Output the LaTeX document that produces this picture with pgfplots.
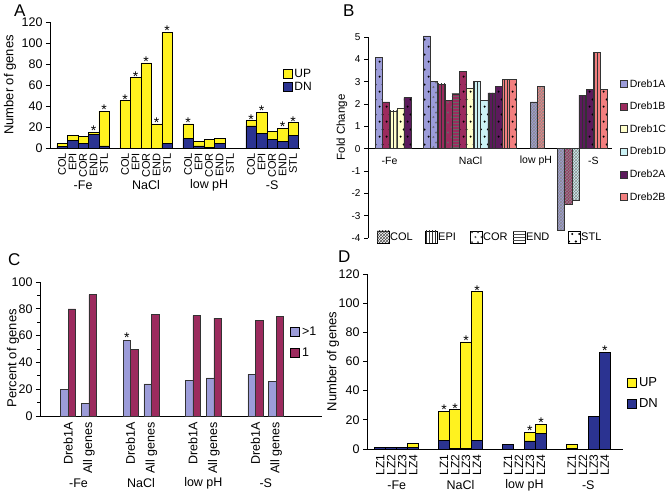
\documentclass[border=0pt]{standalone}
\usepackage{fontspec}
\setmainfont{Liberation Sans}
\usepackage{pgfplots}
\usepackage{pgfplotstable}
\pgfplotsset{compat=1.18}
\usetikzlibrary{patterns}

\newcommand{\fs}[1]{\fontsize{#1}{#1}\selectfont}
\def\yesstr{y}

\definecolor{upY}{HTML}{FFF21F}
\definecolor{dnB}{HTML}{2B3391}
\definecolor{lav}{HTML}{9C9CD9}
\definecolor{mar}{HTML}{9C2B5E}
\definecolor{lyel}{HTML}{FFFFCC}
\definecolor{lcy}{HTML}{CCF2F5}
\definecolor{dpur}{HTML}{5C1A5C}
\definecolor{salm}{HTML}{F27F7F}

\pgfdeclarepatternformonly{stldots}{\pgfqpoint{0pt}{0pt}}{\pgfqpoint{7pt}{15pt}}{\pgfqpoint{7pt}{15pt}}{%
  \pgfpathcircle{\pgfqpoint{1.8pt}{2.5pt}}{1.2pt}%
  \pgfpathcircle{\pgfqpoint{5.2pt}{10pt}}{1.2pt}%
  \pgfusepath{fill}}
\pgfdeclarepatternformonly{corcirc}{\pgfqpoint{0pt}{0pt}}{\pgfqpoint{6pt}{10pt}}{\pgfqpoint{6pt}{10pt}}{%
  \pgfsetlinewidth{0.4pt}%
  \pgfpathcircle{\pgfqpoint{1.6pt}{2pt}}{0.9pt}%
  \pgfpathcircle{\pgfqpoint{4.4pt}{7pt}}{0.9pt}%
  \pgfusepath{stroke}}

\pgfplotsset{
  basic/.style={scale only axis, anchor=south west, axis lines*=left, tick align=outside,
    axis line style={line width=0.9pt, black}, major tick length=4pt, minor tick length=2.5pt,
    every tick/.append style={line width=0.9pt, black},
    /pgf/number format/assume math mode=true, clip=false,
    xtick style={draw=none}, tick label style={font=\fs{12.5}}},
  over/.style={scale only axis, anchor=south west, hide axis, clip=false},
  starmarks/.style={only marks, mark=text, text mark={*}, text mark as node=true,
    text mark style={font=\fs{14}, anchor=base, yshift=-3.5pt, inner sep=0pt}},
  sqleg/.style={legend image code/.code={\draw[##1, draw=black, line width=0.7pt] (0pt,-4.5pt) rectangle (9pt,4.5pt);}},
  sqlegs/.style={legend image code/.code={\draw[##1, draw=black!80, line width=0.5pt] (0pt,-3.5pt) rectangle (7pt,3.5pt);}},
  starnodes/.style={point meta=explicit symbolic,
    nodes near coords={\edef\cur{\pgfplotspointmeta}\ifx\cur\yesstr *\fi},
    every node near coord/.append style={font=\fs{14}, inner sep=0.5pt, anchor=south, yshift=-3pt}},
  bb/.style={ybar, bar width=1, bar shift=0pt, draw=black!80, line width=0.4pt, forget plot},
  pSTL/.style={postaction={pattern=stldots, pattern color=black}},
  pEPI/.style={postaction={pattern=vertical lines, pattern color=black!80}},
  pCOR/.style={postaction={pattern=corcirc, pattern color=black!60}},
  pEND/.style={postaction={pattern=horizontal lines, pattern color=black!60}},
  pCOL/.style={postaction={pattern=crosshatch, pattern color=black!45}},
}

% panel A: x, DN part, UP part
\pgfplotstableread{
x d u
0 1.5 3
1 7 5
2 4 7
3 13 2
4 2 33
6 0 45
7 0 67
8 0 81
9 0 23
10 4 106
12 9 14
13 2 4
14 0.5 7.5
15 4 5
18 21 5
19 14 20
20 8 8
21 6 13
22 12 12
}\dataA
% panel A: totals of the bars that carry a star
\pgfplotstableread{
x t
3 15
4 35
6 45
7 67
8 81
9 23
10 110
12 23
18 26
19 34
21 19
22 24
}\starA

\pgfplotstableread{
x d u
0 1 0
1 1 0
2 1 0
3 1 3
5.8 6 20
6.8 0.5 26.5
7.8 0.5 73
8.8 6 102
11.6 3 0
12.6 0 0
13.6 5.5 6
14.6 10.5 6.5
17.4 0.5 2.5
18.4 0 0
19.4 22.5 0
20.4 66.5 0
}\dataD
\pgfplotstableread{
x t
5.8 26
6.8 27
7.8 73.5
8.8 108
13.6 11.5
14.6 17
20.4 66.5
}\starD

\pgfplotstableread{
x a b s
0 20 80 n
1 9.5 90.5 n
3 56.5 50 y
4 24 76 n
6 26.5 75 n
7 28.5 73 n
9 31 71.5 n
10 26 74.5 n
}\dataC

\begin{document}
\begin{tikzpicture}[x=1pt,y=1pt]
\useasboundingbox (0,0) rectangle (670,499);

% ---------------- Panel A ----------------
\begin{axis}[basic, at={(50pt,351pt)}, width=250pt, height=126pt,
  xmin=-1.15, xmax=22.65, ymin=0, ymax=120, ytick={0,20,...,120},
  ybar stacked, bar width=1,
  xtick={0,1,2,3,4,6,7,8,9,10,12,13,14,15,16,18,19,20,21,22},
  xticklabels={COL,EPI,COR,END,STL,COL,EPI,COR,END,STL,COL,EPI,COR,END,STL,COL,EPI,COR,END,STL},
  x tick label style={rotate=90, anchor=east, font=\fs{11}, inner sep=1pt},
  ylabel={Number of genes}, ylabel style={font=\fs{13}, at={(axis description cs:-0.16,0.5)}, anchor=center},
  legend cell align=left,
  legend style={at={(0.93,0.645)}, anchor=north west, draw=none, fill=none, inner sep=0pt, font=\fs{12}, row sep=-0.5pt},
]
\addlegendimage{sqleg, fill=upY}\addlegendentry{UP}
\addlegendimage{sqleg, fill=dnB}\addlegendentry{DN}
\addplot[fill=dnB, draw=black, line width=0.6pt] table[x=x,y=d] \dataA;
\addplot[fill=upY, draw=black, line width=0.6pt] table[x=x,y=u] \dataA;
\node[font=\fs{12.5}, yshift=-37pt] at (axis cs:2,0) {-Fe};
\node[font=\fs{12.5}, yshift=-37pt] at (axis cs:8,0) {NaCl};
\node[font=\fs{12.5}, yshift=-37pt] at (axis cs:14,0) {low pH};
\node[font=\fs{12.5}, yshift=-37pt] at (axis cs:20,0) {-S};
\end{axis}
\begin{axis}[over, at={(50pt,351pt)}, width=250pt, height=126pt,
  xmin=-1.15, xmax=22.65, ymin=0, ymax=120]
\addplot[starmarks] table[x=x,y=t] \starA;
\end{axis}

% ---------------- Panel B ----------------
\begin{axis}[basic, at={(368pt,261pt)}, width=244pt, height=201pt,
  xmin=-1, xmax=33, ymin=-4, ymax=5, ytick={-4,-3,-2,-1,0,1,2,3,4,5},
  axis x line*=middle, axis y line*=left, xtick=\empty,
  tick label style={font=\fs{10}},
  ylabel={Fold Change}, ylabel style={font=\fs{11.5}, at={(axis description cs:-0.107,0.55)}, anchor=center},
  legend cell align=left,
  legend style={at={(1.033,0.80)}, anchor=north west, draw=none, fill=none, inner sep=0pt, font=\fs{10.5}, row sep=9.5pt},
]
% STL
\addplot[bb, fill=lav, pSTL] coordinates {(0.5,4.1) (7.2,5.05)};
\addplot[bb, fill=mar, pSTL] coordinates {(1.5,2.1) (12.2,3.45)};
\addplot[bb, fill=lyel, pSTL] coordinates {(3.5,1.8) (13.2,2.7)};
\addplot[bb, fill=lcy, pSTL] coordinates {(15.2,2.15)};
\addplot[bb, fill=dpur, pSTL] coordinates {(4.5,2.3) (17.2,2.8) (29.9,2.65)};
\addplot[bb, fill=salm, pSTL] coordinates {(19.2,3.1) (31.9,2.65)};
% EPI
\addplot[bb, fill=mar, pEPI] coordinates {(9.2,2.9)};
\addplot[bb, fill=lyel, pEPI] coordinates {(2.5,1.7)};
\addplot[bb, fill=lcy, pEPI] coordinates {(14.2,3.0)};
\addplot[bb, fill=dpur, pEPI] coordinates {(16.2,2.5) (28.9,2.4)};
\addplot[bb, fill=salm, pEPI] coordinates {(18.2,3.1) (30.9,4.3)};
% COR
\addplot[bb, fill=lav, pCOR] coordinates {(8.2,3.0)};
\addplot[bb, fill=mar, pCOR] coordinates {(10.2,2.15)};
% END
\addplot[bb, fill=mar, pEND] coordinates {(11.2,2.45)};
% COL
\addplot[bb, fill=lav, pCOL] coordinates {(22.1,2.1) (25.9,-3.65)};
\addplot[bb, fill=mar, pCOL] coordinates {(26.9,-2.5)};
\addplot[bb, fill=lcy, pCOL] coordinates {(27.9,-2.3)};
\addplot[bb, fill=salm, pCOL] coordinates {(23.1,2.8)};
\addlegendimage{sqlegs, fill=lav}\addlegendentry{Dreb1A}
\addlegendimage{sqlegs, fill=mar}\addlegendentry{Dreb1B}
\addlegendimage{sqlegs, fill=lyel}\addlegendentry{Dreb1C}
\addlegendimage{sqlegs, fill=lcy}\addlegendentry{Dreb1D}
\addlegendimage{sqlegs, fill=dpur}\addlegendentry{Dreb2A}
\addlegendimage{sqlegs, fill=salm}\addlegendentry{Dreb2B}
\node[font=\fs{10.5}, yshift=-12pt] at (axis cs:2.0,0) {-Fe};
\node[font=\fs{10.5}, yshift=-12pt] at (axis cs:13.3,0) {NaCl};
\node[font=\fs{10.5}, yshift=-12pt] at (axis cs:22.4,0) {low pH};
\node[font=\fs{10.5}, yshift=-12pt] at (axis cs:30.4,0) {-S};
\end{axis}
% pattern legend of panel B
\draw[black, line width=0.5pt, fill=white, postaction={pattern=crosshatch, pattern color=black!70}] (377,256) rectangle ++(12,12);
\node[anchor=west, font=\fs{11}, inner sep=1pt] at (389,262) {COL};
\draw[black, line width=0.5pt, fill=white, postaction={pattern=vertical lines, pattern color=black!80}] (425,256) rectangle ++(12,12);
\node[anchor=west, font=\fs{11}, inner sep=1pt] at (437,262) {EPI};
\draw[black, line width=0.5pt, fill=white, postaction={pattern=corcirc, pattern color=black!80}] (470,256) rectangle ++(12,12);
\node[anchor=west, font=\fs{11}, inner sep=1pt] at (482,262) {COR};
\draw[black, line width=0.5pt, fill=white, postaction={pattern=horizontal lines, pattern color=black!70}] (513,256) rectangle ++(12,12);
\node[anchor=west, font=\fs{11}, inner sep=1pt] at (525,262) {END};
\draw[black, line width=0.5pt, fill=white, postaction={pattern=stldots, pattern color=black}] (568,256) rectangle ++(12,12);
\node[anchor=west, font=\fs{11}, inner sep=1pt] at (580,262) {STL};

% ---------------- Panel C ----------------
\begin{axis}[basic, at={(40pt,83pt)}, width=282pt, height=134pt,
  xmin=-1.35, xmax=12.2, ymin=0, ymax=100, ytick={0,20,...,100}, minor ytick={10,30,50,70,90},
  ybar=0pt, bar width=0.36,
  xtick={0,1,3,4,6,7,9,10},
  xticklabels={Dreb1A,All genes,Dreb1A,All genes,Dreb1A,All genes,Dreb1A,All genes},
  x tick label style={rotate=90, anchor=east, font=\fs{12.5}, inner sep=2pt},
  ylabel={Percent of genes}, ylabel style={font=\fs{13}, at={(axis description cs:-0.096,0.43)}, anchor=center},
  legend cell align=left,
  legend style={at={(0.887,0.68)}, anchor=north west, draw=none, fill=none, inner sep=0pt, font=\fs{12.5}, row sep=7pt},
]
\addplot[fill=lav, draw=black!80, line width=0.5pt, sqleg, starnodes] table[x=x,y=a,meta=s] \dataC;
\addlegendentry{>1}
\addplot[fill=mar, draw=black!80, line width=0.5pt, sqleg] table[x=x,y=b] \dataC;
\addlegendentry{1}
\node[font=\fs{12.5}, yshift=-67pt] at (axis cs:0.5,0) {-Fe};
\node[font=\fs{12.5}, yshift=-67pt] at (axis cs:3.5,0) {NaCl};
\node[font=\fs{12.5}, yshift=-67pt] at (axis cs:6.5,0) {low pH};
\node[font=\fs{12.5}, yshift=-67pt] at (axis cs:9.5,0) {-S};
\end{axis}

% ---------------- Panel D ----------------
\begin{axis}[basic, at={(367pt,50pt)}, width=256pt, height=175pt,
  xmin=-1.2, xmax=22.05, ymin=0, ymax=120, ytick={0,20,...,120},
  ybar stacked, bar width=1,
  xtick={0,1,2,3,5.8,6.8,7.8,8.8,11.6,12.6,13.6,14.6,17.4,18.4,19.4,20.4},
  xticklabels={LZ1,LZ2,LZ3,LZ4,LZ1,LZ2,LZ3,LZ4,LZ1,LZ2,LZ3,LZ4,LZ1,LZ2,LZ3,LZ4},
  x tick label style={rotate=90, anchor=east, font=\fs{12}, inner sep=1.5pt},
  ylabel={Number of genes}, ylabel style={font=\fs{13}, at={(axis description cs:-0.133,0.5)}, anchor=center},
  legend cell align=left,
  legend style={at={(1.016,0.42)}, anchor=north west, draw=none, fill=none, inner sep=0pt, font=\fs{13}, row sep=6pt},
]
\addlegendimage{sqleg, fill=upY}\addlegendentry{UP}
\addlegendimage{sqleg, fill=dnB}\addlegendentry{DN}
\addplot[fill=dnB, draw=black, line width=0.6pt] table[x=x,y=d] \dataD;
\addplot[fill=upY, draw=black, line width=0.6pt] table[x=x,y=u] \dataD;
\node[font=\fs{12.5}, yshift=-36pt] at (axis cs:1.5,0) {-Fe};
\node[font=\fs{12.5}, yshift=-36pt] at (axis cs:7.3,0) {NaCl};
\node[font=\fs{12.5}, yshift=-36pt] at (axis cs:13.1,0) {low pH};
\node[font=\fs{12.5}, yshift=-36pt] at (axis cs:18.9,0) {-S};
\end{axis}
\begin{axis}[over, at={(367pt,50pt)}, width=256pt, height=175pt,
  xmin=-1.2, xmax=22.05, ymin=0, ymax=120]
\addplot[starmarks] table[x=x,y=t] \starD;
\end{axis}

% panel letters
\node[anchor=north west, font=\fs{17}, inner sep=0pt] at (14,494) {A};
\node[anchor=north west, font=\fs{17}, inner sep=0pt] at (343,494) {B};
\node[anchor=north west, font=\fs{17}, inner sep=0pt] at (8,246) {C};
\node[anchor=north west, font=\fs{17}, inner sep=0pt] at (338,248) {D};
\end{tikzpicture}
\end{document}
